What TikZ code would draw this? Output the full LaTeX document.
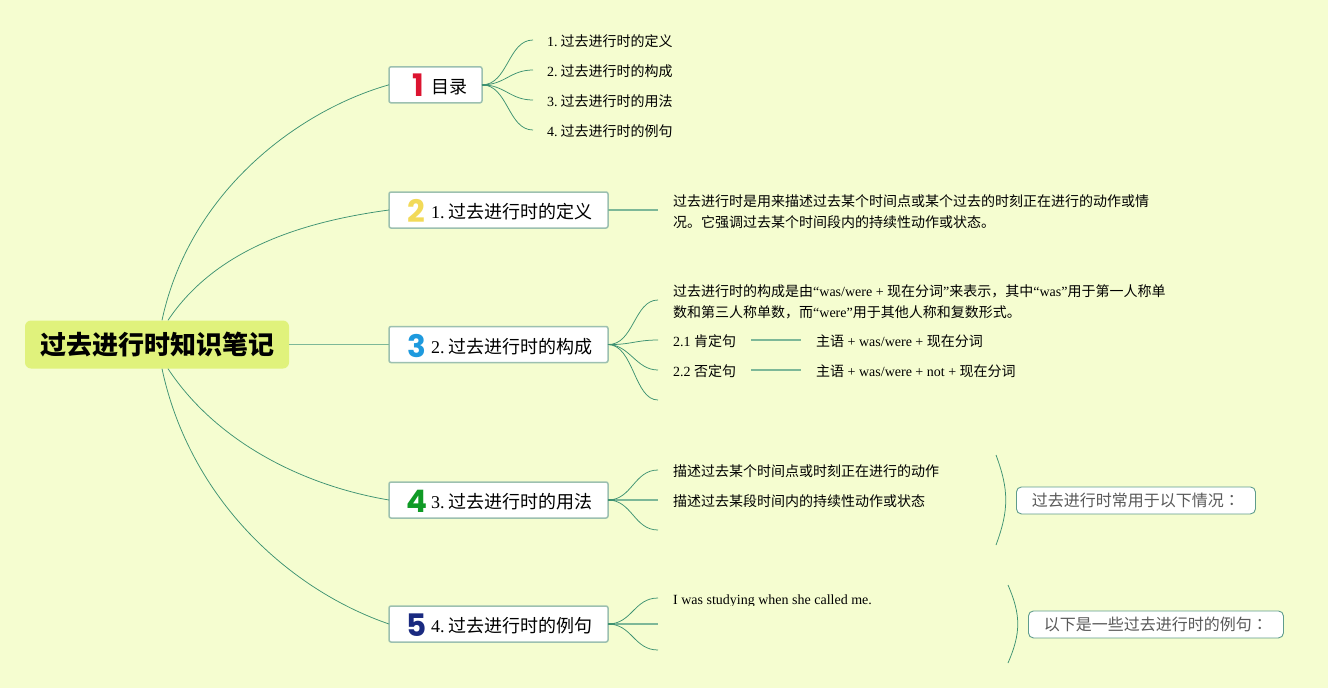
\documentclass[tikz,border=0pt]{standalone}
\usepackage{fontspec}
\setmainfont{Liberation Serif}
\newfontfamily\cjk{Noto Sans CJK SC}
\newfontfamily\cjktc{Noto Sans CJK TC}
\newfontfamily\digitfont{Poppins}
\newcommand{\zh}[1]{{\cjk #1}}
\newcommand{\gapa}{\hspace{3pt}}
\newcommand{\gapb}{\hspace{4pt}}
\definecolor{bgc}{HTML}{F5FDD0}
\definecolor{rootc}{HTML}{E0F27C}
\definecolor{linec}{HTML}{3E9272}
\definecolor{linelight}{HTML}{7DB898}
\definecolor{boxline}{HTML}{9CC0B0}
\definecolor{calloutline}{HTML}{5F9C8C}
\definecolor{onec}{HTML}{DC1430}
\definecolor{twoc}{HTML}{F2DA58}
\definecolor{threec}{HTML}{1E9ADE}
\definecolor{fourc}{HTML}{0F9A25}
\definecolor{fivec}{HTML}{1A2A80}
\tikzset{
  x=1pt,y=-1pt,
  rootbox/.style={draw=none,fill=rootc,rounded corners=6pt,minimum width=264pt,minimum height=48pt,inner sep=0pt,font=\fontsize{26}{30}\selectfont\cjk\bfseries},
  topicbox/.style={draw=boxline,line width=1.5pt,fill=white,rounded corners=2pt,anchor=north west,inner sep=0pt,outer sep=0pt,minimum height=36pt},
  topictext/.style={anchor=base west,inner sep=0pt,font=\fontsize{18}{22}\selectfont},
  badge/.style={anchor=base,inner sep=0pt,font=\fontsize{31}{32}\selectfont\digitfont\bfseries},
  leaf/.style={anchor=west,inner sep=0pt,align=left,font=\fontsize{14}{21}\selectfont,text height=10pt,text depth=2pt},
  branch/.style={draw=linec,line width=.75pt},
  straight/.style={draw=linelight,line width=1.4pt},
  stub/.style={draw=linec,line width=1.8pt},
  callout/.style={draw=calloutline,line width=.9pt,fill=white,rounded corners=5pt,anchor=north west,inner sep=0pt,text=black!65,font=\fontsize{16}{20}\selectfont\cjk},
}
\begin{document}
\begin{tikzpicture}
\useasboundingbox (0,0) rectangle (1328,688);
\fill[bgc] (0,0) rectangle (1328,688);

\node[rootbox] (root) at (157,344.5) {\raisebox{-1.8pt}{过去进行时知识笔记}};

\node[topicbox,minimum width=93pt] (b1) at (389,66.8) {};
\node[topicbox,minimum width=219pt] (b2) at (389,192) {};
\node[topicbox,minimum width=219pt] (b3) at (389,326.5) {};
\node[topicbox,minimum width=219pt] (b4) at (389,482) {};
\node[topicbox,minimum width=219pt] (b5) at (389,606) {};

\node[badge,text=onec] (n1) at (418,96) {1};
\node[badge,text=twoc] (n2) at (416.5,222) {2};
\node[badge,text=threec] (n3) at (416.5,357) {3};
\node[badge,text=fourc] (n4) at (416.5,512) {4};
\node[badge,text=fivec] (n5) at (416.5,636) {5};

\node[topictext] (t1) at (431,93) {\zh{目录}};
\node[topictext] (t2) at (431,218) {1.\gapb\zh{过去进行时的定义}};
\node[topictext] (t3) at (431,353) {2.\gapb\zh{过去进行时的构成}};
\node[topictext] (t4) at (431,508) {3.\gapb\zh{过去进行时的用法}};
\node[topictext] (t5) at (431,632) {4.\gapb\zh{过去进行时的例句}};

\draw[branch] ([xshift=5pt]root.north) .. controls (190,190) and (300,110) .. (b1.west);
\draw[branch] ([xshift=11pt]root.north) .. controls (215,250) and (300,222) .. (b2.west);
\draw[straight,line width=1pt] (root.east) -- (b3.west);
\draw[branch] ([xshift=11pt]root.south) .. controls (215,440) and (300,485) .. (b4.west);
\draw[branch] ([xshift=5pt]root.south) .. controls (190,500) and (290,590) .. (b5.west);

% topic 1
\node[leaf] (a1) at (547,42) {1.\gapa\zh{过去进行时的定义}};
\node[leaf] (a2) at (547,72) {2.\gapa\zh{过去进行时的构成}};
\node[leaf] (a3) at (547,102) {3.\gapa\zh{过去进行时的用法}};
\node[leaf] (a4) at (547,132) {4.\gapa\zh{过去进行时的例句}};
\coordinate (a1e) at (533,40);
\coordinate (a2e) at (533,70);
\coordinate (a3e) at (533,100);
\coordinate (a4e) at (533,130);
\draw[branch] (b1.east) .. controls (508,85) and (508,40) .. (a1e);
\draw[branch] (b1.east) .. controls (505,85) and (510,70) .. (a2e);
\draw[branch] (b1.east) .. controls (505,85) and (510,100) .. (a3e);
\draw[branch] (b1.east) .. controls (508,85) and (508,130) .. (a4e);
\draw[stub] (b1.east) -- ++(7,0);

% topic 2
\node[leaf] (c1) at (673,223) {\zh{过去进行时是用来描述过去某个时间点或某个过去的时刻正在进行的动作或情}\\\zh{况。它强调过去某个时间段内的持续性动作或状态。}};
\coordinate (c1e) at ([xshift=50pt]b2.east);
\draw[straight] (b2.east) -- (c1e);

% topic 3
\node[leaf] (d1) at (673,313) {\zh{过去进行时的构成是由}“was/were + \zh{现在分词}”\zh{来表示，其中}“was”\zh{用于第一人称单}\\\zh{数和第三人称单数，而}“were”\zh{用于其他人称和复数形式。}};
\node[leaf] (d2) at (673,342) {2.1 \zh{肯定句}};
\node[leaf] (d3) at (673,372) {2.2 \zh{否定句}};
\node[leaf] (d2c) at (816,342) {\zh{主语} + was/were + \zh{现在分词}};
\node[leaf] (d3c) at (816,372) {\zh{主语} + was/were + not + \zh{现在分词}};
\coordinate (d1e) at (658,300);
\coordinate (d2e) at (658,340);
\coordinate (d3e) at (658,370);
\coordinate (d4e) at (658,400);
\draw[branch] (b3.east) .. controls (634,345) and (634,300) .. (d1e);
\draw[branch] (b3.east) .. controls (630,345) and (636,340) .. (d2e);
\draw[branch] (b3.east) .. controls (630,345) and (636,370) .. (d3e);
\draw[branch] (b3.east) .. controls (634,345) and (634,400) .. (d4e);
\draw[stub] (b3.east) -- ++(7,0);
\draw[straight] ([xshift=15pt,yshift=2pt]d2.east) -- ([xshift=-15pt,yshift=2pt]d2c.west);
\draw[straight] ([xshift=15pt,yshift=2pt]d3.east) -- ([xshift=-15pt,yshift=2pt]d3c.west);

% topic 4
\node[leaf] (f1) at (673,472) {\zh{描述过去某个时间点或时刻正在进行的动作}};
\node[leaf] (f2) at (673,502) {\zh{描述过去某段时间内的持续性动作或状态}};
\coordinate (f1e) at (658,470);
\coordinate (f2e) at ([xshift=50pt]b4.east);
\coordinate (f3e) at (658,530);
\draw[branch] (b4.east) .. controls (632,500) and (634,470) .. (f1e);
\draw[straight] (b4.east) -- (f2e);
\draw[branch] (b4.east) .. controls (632,500) and (634,530) .. (f3e);
\draw[stub] (b4.east) -- ++(7,0);

% topic 5
\begin{scope}
\clip (660,585) rectangle (900,605.5);
\node[leaf] (g1) at (673,600) {I was studying when she called me.};
\end{scope}
\coordinate (g1e) at (658,598);
\coordinate (g2e) at ([xshift=50pt]b5.east);
\coordinate (g3e) at (658,650);
\draw[branch] (b5.east) .. controls (632,624) and (634,598) .. (g1e);
\draw[straight] (b5.east) -- (g2e);
\draw[branch] (b5.east) .. controls (632,624) and (634,650) .. (g3e);
\draw[stub] (b5.east) -- ++(7,0);

% summaries
\node[callout,minimum width=239pt,minimum height=27pt] (s1) at (1016,486.5) {过去进行时常用于以下情况{\cjktc ：}};
\node[callout,minimum width=255pt,minimum height=27pt] (s2) at (1028,610.5) {以下是一些过去进行时的例句{\cjktc ：}};
\coordinate (s1t) at (996,455);
\coordinate (s1b) at (996,545);
\coordinate (s2t) at (1008,585);
\coordinate (s2b) at (1008,663);
\draw[branch] (s1t) .. controls (1009,490) and (1009,510) .. (s1b);
\draw[branch] (s2t) .. controls (1021,615) and (1021,633) .. (s2b);
\end{tikzpicture}
\end{document}
